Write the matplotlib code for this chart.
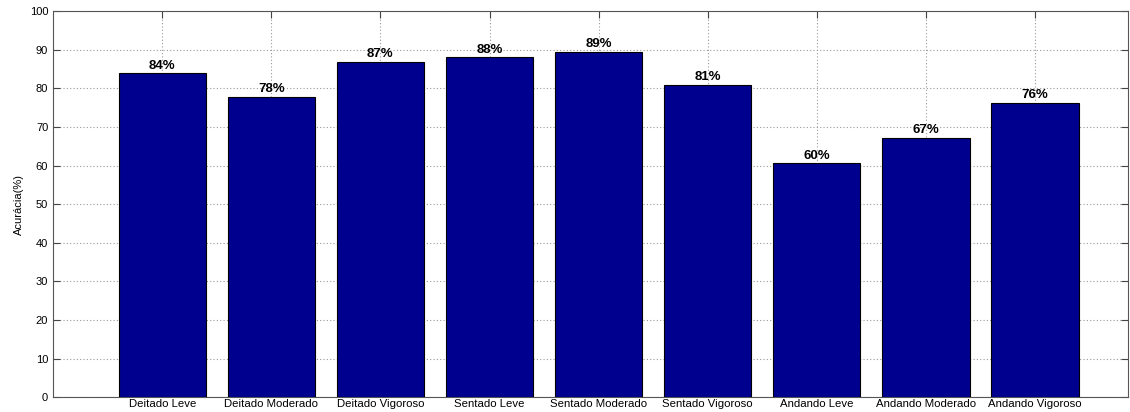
import numpy as np
from matplotlib import pyplot as plt

categories = ['Deitado Leve', 'Deitado Moderado', 'Deitado Vigoroso',
              'Sentado Leve', 'Sentado Moderado', 'Sentado Vigoroso',
              'Andando Leve', 'Andando Moderado', 'Andando Vigoroso']
values = [83.9, 77.8, 86.9, 88.0, 89.5, 80.9, 60.6, 67.2, 76.2]
labels = ['84%', '78%', '87%', '88%', '89%', '81%', '60%', '67%', '76%']


def main():
    plt.rcParams['font.family'] = ['Liberation Sans', 'DejaVu Sans']
    fig = plt.figure(figsize=(11.3, 4.12), dpi=100)
    ax = fig.add_axes([0.047, 0.036, 0.951, 0.937])

    x = np.arange(1, len(categories) + 1)
    ax.bar(x, values, width=0.8, color='#00008f', edgecolor='black', linewidth=0.8, zorder=3)
    for xi, v, lab in zip(x, values, labels):
        ax.text(xi, v + 0.4, lab, ha='center', va='bottom', fontsize=9.5,
                fontweight='bold', zorder=4)

    ax.set_xlim(0, 9.85)
    ax.set_ylim(0, 100)
    ax.set_xticks(x)
    ax.set_xticklabels(categories, fontsize=8.2)
    ax.set_yticks(range(0, 101, 10))
    ax.tick_params(axis='y', labelsize=8)
    ax.tick_params(direction='in', top=True, right=True, length=5, color='#444444')
    ax.tick_params(axis='x', pad=1.5)
    ax.set_ylabel('Acurácia(%)', fontsize=8)
    ax.grid(True, linestyle=(0, (1, 2)), color='#999999', linewidth=0.8, zorder=0)
    for s in ax.spines.values():
        s.set_color('#555555')

    fig.savefig('out.png', dpi=100)


if __name__ == "__main__":
    main()
